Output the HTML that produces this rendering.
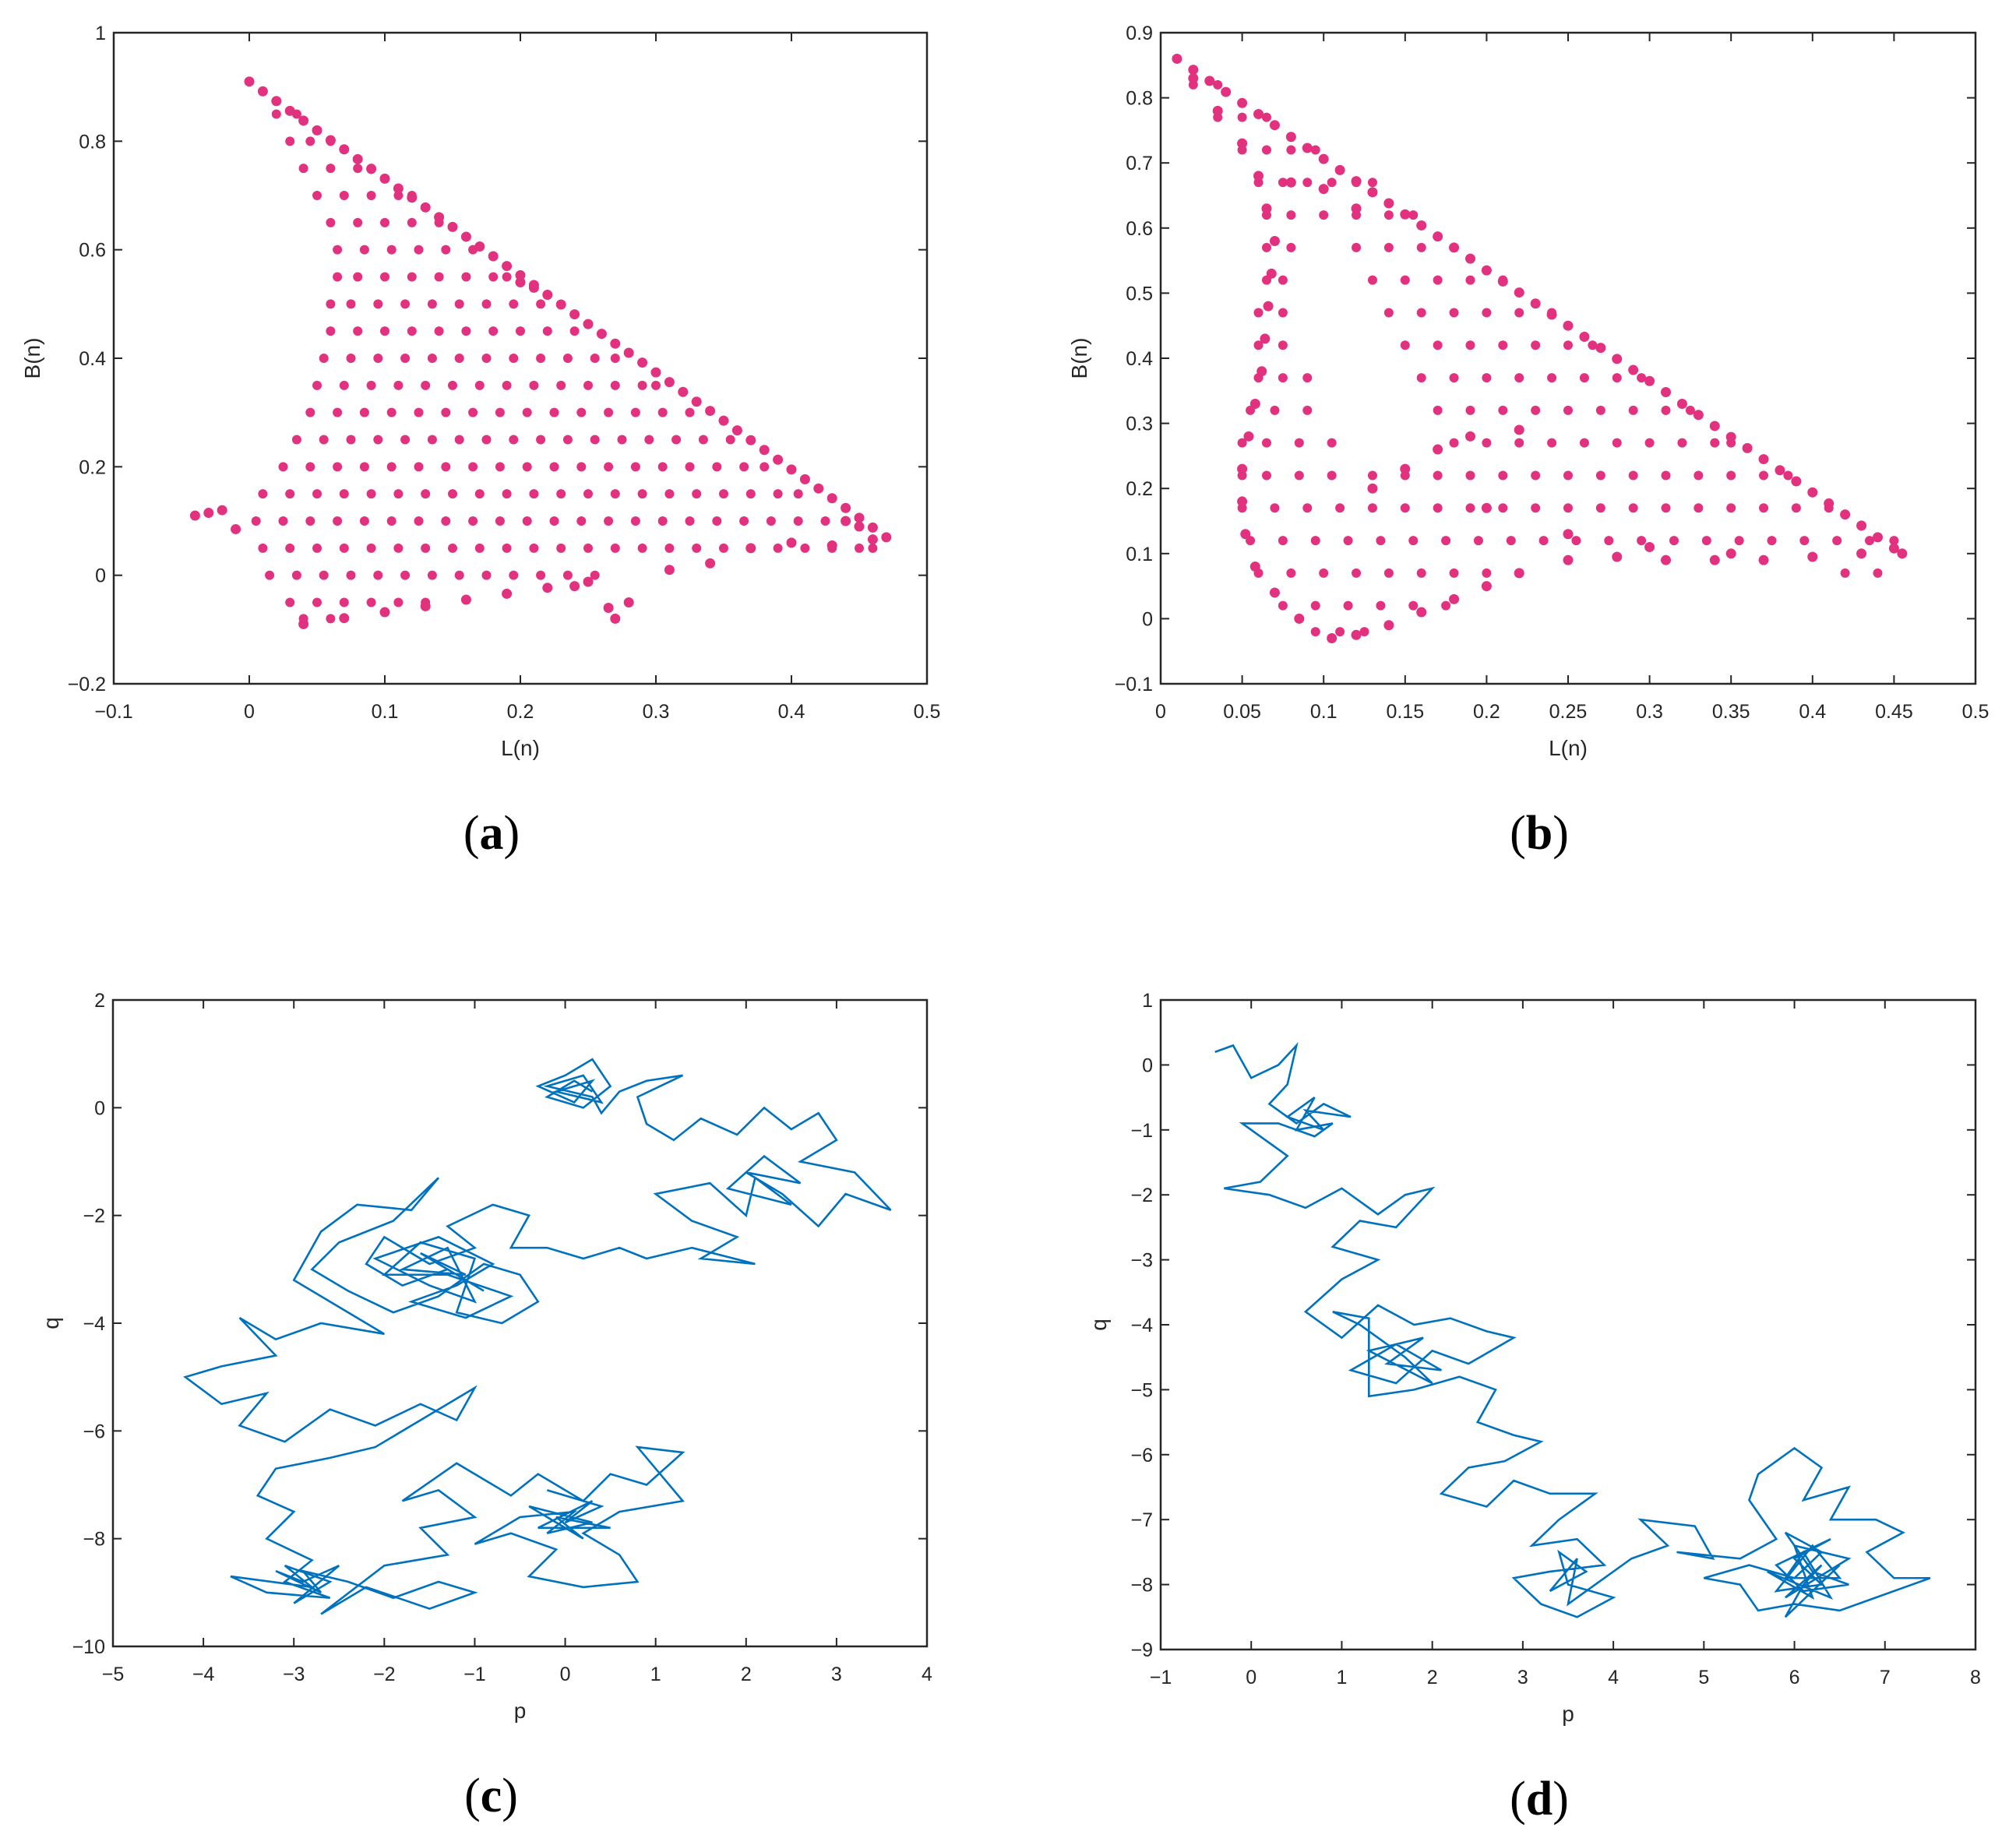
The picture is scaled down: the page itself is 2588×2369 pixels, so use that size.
<!DOCTYPE html>
<html><head><meta charset="utf-8"><style>
html,body{margin:0;padding:0;background:#fff}
svg{display:block}
text{font-family:"Liberation Sans",sans-serif;fill:#262626}
.cap{font-family:"Liberation Serif",serif;fill:#000}
</style></head><body>
<svg id="fig" width="2588" height="2369" viewBox="0 0 2588 2369" xmlns="http://www.w3.org/2000/svg"></svg>
<script>
// ---- panel (a) data: rows of L values at given B
const aRowB=[0.85,0.80,0.75,0.70,0.65,0.60,0.55,0.50,0.45,0.40,0.35,0.30,0.25,0.20,0.15,0.10,0.05,0.00,-0.05,-0.08];
const aRowL=[[0.02,0.035],[0.03,0.045,0.06],[0.04,0.06,0.08,0.09],[0.05,0.07,0.09,0.11,0.12],[0.06,0.08,0.10,0.12,0.14],
[0.065,0.085,0.105,0.125,0.145,0.165],[0.065,0.08,0.10,0.12,0.14,0.16,0.18,0.19],[0.06,0.075,0.095,0.115,0.135,0.155,0.175,0.195,0.215],
[0.06,0.08,0.10,0.12,0.14,0.16,0.18,0.20,0.22,0.24],[0.055,0.075,0.095,0.115,0.135,0.155,0.175,0.195,0.215,0.235,0.255,0.27],
[0.05,0.07,0.09,0.11,0.13,0.15,0.17,0.19,0.21,0.23,0.25,0.27,0.29,0.30],
[0.045,0.065,0.085,0.105,0.125,0.145,0.165,0.185,0.205,0.225,0.245,0.265,0.285,0.305,0.325],
[0.035,0.055,0.075,0.095,0.115,0.135,0.155,0.175,0.195,0.215,0.235,0.255,0.275,0.295,0.315,0.335,0.355],
[0.025,0.045,0.065,0.085,0.105,0.125,0.145,0.165,0.185,0.205,0.225,0.245,0.265,0.285,0.305,0.325,0.345,0.365,0.38],
[0.01,0.03,0.05,0.07,0.09,0.11,0.13,0.15,0.17,0.19,0.21,0.23,0.25,0.27,0.29,0.31,0.33,0.35,0.37,0.39,0.405],
[0.005,0.025,0.045,0.065,0.085,0.105,0.125,0.145,0.165,0.185,0.205,0.225,0.245,0.265,0.285,0.305,0.325,0.345,0.365,0.385,0.405,0.425,0.44],
[0.01,0.03,0.05,0.07,0.09,0.11,0.13,0.15,0.17,0.19,0.21,0.23,0.25,0.27,0.29,0.31,0.33,0.35,0.37,0.39,0.41,0.43,0.45,0.46],
[0.015,0.035,0.055,0.075,0.095,0.115,0.135,0.155,0.175,0.195,0.215,0.235,0.255],
[0.03,0.05,0.07,0.09,0.11,0.13],[0.04,0.06]];
const aExtra=[[0.00,0.91],[0.01,0.892],[0.02,0.874],[0.03,0.856],[0.04,0.838],[0.05,0.82],[0.06,0.802],[0.07,0.785],[0.08,0.767],[0.09,0.749],[0.10,0.731],[0.11,0.713],[0.12,0.696],[0.13,0.678],[0.14,0.66],[0.15,0.642],[0.16,0.624],[0.17,0.606],[0.18,0.588],[0.19,0.57],[0.20,0.553],[0.21,0.535],[0.22,0.517],[0.23,0.499],[0.24,0.481],[0.25,0.463],[0.26,0.445],[0.27,0.427],[0.28,0.41],[0.29,0.392],[0.30,0.374],[0.31,0.356],[0.32,0.338],[0.33,0.32],[0.34,0.303],[0.35,0.285],[0.36,0.267],[0.37,0.249],[0.38,0.231],[0.39,0.213],[0.40,0.195],[0.41,0.177],[0.42,0.16],[0.43,0.142],[0.44,0.124],[0.45,0.106],[0.46,0.088],[0.47,0.07],
[0.04,-0.09],[0.07,-0.079],[0.10,-0.068],[0.13,-0.057],[0.16,-0.045],[0.19,-0.034],[0.22,-0.023],[0.25,-0.012],[0.31,0.01],[0.34,0.022],[0.37,0.05],[0.40,0.06],[0.43,0.055],[0.46,0.066],
[-0.04,0.11],[-0.03,0.115],[-0.02,0.12],[-0.01,0.085],[0.265,-0.06],[0.27,-0.08],[0.28,-0.05],[0.24,-0.02],[0.21,0.53],[0.2,0.54],[0.45,0.09],[0.44,0.1]];
// ---- panel (b) data
const bRowB=[0.82,0.77,0.72,0.67,0.62,0.57,0.52,0.47,0.42,0.37,0.32,0.27,0.22,0.17,0.12,0.07,0.02,-0.02];
const bRowL=[[0.02,0.035],[0.035,0.05,0.065],[0.05,0.065,0.08,0.095],[0.06,0.075,0.09,0.105,0.12,0.13],[0.065,0.08,0.10,0.12,0.14,0.155],
[0.065,0.08,0.12,0.14,0.16,0.18],[0.065,0.075,0.13,0.15,0.17,0.19,0.21],[0.06,0.075,0.14,0.16,0.18,0.20,0.22,0.24],
[0.06,0.075,0.15,0.17,0.19,0.21,0.23,0.25,0.265],[0.06,0.075,0.09,0.16,0.18,0.20,0.22,0.24,0.26,0.28,0.295],
[0.055,0.07,0.09,0.17,0.19,0.21,0.23,0.25,0.27,0.29,0.31,0.325],[0.05,0.065,0.085,0.105,0.18,0.20,0.22,0.24,0.26,0.28,0.30,0.32,0.34,0.35],
[0.05,0.065,0.085,0.105,0.13,0.15,0.17,0.19,0.21,0.23,0.25,0.27,0.29,0.31,0.33,0.35,0.37,0.385],
[0.05,0.07,0.09,0.11,0.13,0.15,0.17,0.19,0.21,0.23,0.25,0.27,0.29,0.31,0.33,0.35,0.37,0.39,0.41],
[0.055,0.075,0.095,0.115,0.135,0.155,0.175,0.195,0.215,0.235,0.255,0.275,0.295,0.315,0.335,0.355,0.375,0.395,0.415,0.435,0.45],
[0.06,0.08,0.10,0.12,0.14,0.16,0.18,0.20,0.22,0.42,0.44],[0.075,0.095,0.115,0.135,0.155,0.175],[0.095,0.11,0.125]];
const bExtra=[[0.01,0.86],[0.02,0.843],[0.03,0.826],[0.04,0.809],[0.05,0.792],[0.06,0.775],[0.07,0.758],[0.08,0.74],[0.09,0.723],[0.10,0.706],[0.11,0.689],[0.12,0.672],[0.13,0.655],[0.14,0.638],[0.15,0.621],[0.16,0.604],[0.17,0.587],[0.18,0.57],[0.19,0.553],[0.20,0.535],[0.21,0.518],[0.22,0.501],[0.23,0.484],[0.24,0.467],[0.25,0.45],[0.26,0.433],[0.27,0.416],[0.28,0.399],[0.29,0.382],[0.30,0.365],[0.31,0.348],[0.32,0.33],[0.33,0.313],[0.34,0.296],[0.35,0.279],[0.36,0.262],[0.37,0.245],[0.38,0.228],[0.39,0.211],[0.40,0.194],[0.41,0.177],[0.42,0.16],[0.43,0.143],[0.44,0.125],[0.45,0.108],
[0.02,0.83],[0.035,0.78],[0.05,0.73],[0.06,0.68],[0.065,0.63],[0.07,0.58],[0.068,0.53],[0.066,0.48],[0.064,0.43],[0.062,0.38],[0.058,0.33],[0.054,0.28],[0.05,0.23],[0.05,0.18],[0.052,0.13],[0.058,0.08],[0.07,0.04],[0.085,0.0],[0.105,-0.03],
[0.12,-0.025],[0.14,-0.01],[0.16,0.01],[0.18,0.03],[0.2,0.05],[0.22,0.07],[0.25,0.09],[0.28,0.095],[0.31,0.09],[0.34,0.09],[0.37,0.09],[0.40,0.095],[0.43,0.1],[0.455,0.1],
[0.08,0.67],[0.10,0.66],[0.12,0.63],[0.13,0.2],[0.15,0.23],[0.17,0.26],[0.19,0.28],[0.22,0.29],[0.2,0.17],[0.25,0.13],[0.3,0.11],[0.35,0.1]];
// ---- panel (c) walk
const cWalk=[[0.3,0.3],[0.1,0.5],[-0.2,0.2],[0.2,0.0],[0.5,0.4],[0.3,0.9],[0.0,0.6],[-0.3,0.4],[0.1,0.1],[0.3,0.5],[-0.1,0.3],[0.4,0.1],[0.2,0.6],[-0.2,0.4],[0.3,0.2],[0.4,-0.1],[0.6,0.3],[0.9,0.5],[1.3,0.6],[0.8,0.2],[0.9,-0.3],[1.2,-0.6],[1.5,-0.2],[1.9,-0.5],[2.2,0.0],[2.5,-0.4],[2.8,-0.1],[3.0,-0.6],[2.6,-1.0],[3.2,-1.2],[3.6,-1.9],[3.1,-1.6],[2.8,-2.2],[2.4,-1.6],[2.0,-1.2],[2.6,-1.4],[2.2,-0.9],[1.8,-1.5],[2.5,-1.8],[2.1,-1.3],[2.0,-2.0],[1.6,-1.4],[1.0,-1.6],[1.4,-2.1],[1.9,-2.4],[1.5,-2.8],[2.1,-2.9],[1.4,-2.6],[0.9,-2.8],[0.6,-2.6],[0.2,-2.8],[-0.2,-2.6],[-0.6,-2.6],[-0.4,-2.0],[-0.8,-1.8],[-1.3,-2.2],[-1.0,-2.6],[-1.5,-2.9],[-2.0,-2.4],[-2.2,-2.9],[-1.8,-3.3],[-1.3,-3.0],[-0.9,-3.4],[-1.6,-2.7],[-1.1,-3.1],[-1.8,-3.0],[-1.3,-2.6],[-1.0,-3.6],[-1.5,-3.3],[-2.1,-2.8],[-1.4,-2.4],[-0.8,-2.9],[-1.2,-3.3],[-1.7,-3.6],[-1.1,-3.9],[-0.6,-3.5],[-1.3,-3.1],[-2.0,-3.1],[-1.6,-2.5],[-1.0,-2.8],[-1.2,-3.8],[-0.7,-4.0],[-0.3,-3.6],[-0.5,-3.1],[-0.9,-2.9],[-1.4,-3.5],[-1.9,-3.8],[-2.4,-3.4],[-2.8,-3.0],[-2.5,-2.5],[-1.9,-2.1],[-1.4,-1.3],[-1.7,-1.9],[-2.3,-1.8],[-2.7,-2.3],[-3.0,-3.2],[-2.5,-3.7],[-2.0,-4.2],[-2.7,-4.0],[-3.2,-4.3],[-3.6,-3.9],[-3.2,-4.6],[-3.8,-4.8],[-4.2,-5.0],[-3.8,-5.5],[-3.3,-5.3],[-3.6,-5.9],[-3.1,-6.2],[-2.6,-5.6],[-2.1,-5.9],[-1.6,-5.5],[-1.2,-5.8],[-1.0,-5.2],[-1.6,-5.8],[-2.1,-6.3],[-2.6,-6.5],[-3.2,-6.7],[-3.4,-7.2],[-3.0,-7.5],[-3.3,-8.0],[-2.8,-8.4],[-3.1,-8.8],[-2.6,-9.1],[-3.3,-9.0],[-3.7,-8.7],[-2.8,-8.9],[-3.1,-8.5],[-2.6,-8.8],[-3.0,-9.2],[-2.5,-8.5],[-2.9,-8.8],[-3.2,-8.6],[-2.7,-9.0],[-2.9,-8.6],[-2.4,-8.8],[-1.9,-9.1],[-1.4,-8.8],[-1.0,-9.0],[-1.5,-9.3],[-2.2,-8.9],[-2.7,-9.4],[-2.0,-8.5],[-1.3,-8.3],[-1.6,-7.8],[-1.0,-7.6],[-1.4,-7.1],[-1.8,-7.3],[-1.2,-6.6],[-0.6,-7.2],[-0.3,-6.8],[0.2,-7.3],[0.5,-6.8],[0.9,-7.0],[1.3,-6.4],[0.8,-6.3],[1.1,-6.9],[1.3,-7.3],[0.6,-7.5],[0.2,-7.9],[0.6,-8.3],[0.8,-8.8],[0.2,-8.9],[-0.4,-8.7],[-0.1,-8.2],[-0.6,-7.9],[-1.0,-8.1],[-0.5,-7.6],[0.1,-7.5],[-0.2,-7.9],[0.3,-7.7],[-0.4,-7.4],[0.2,-8.0],[-0.1,-7.6],[0.5,-7.8],[-0.3,-7.8],[0.3,-7.3],[0.0,-7.7],[0.4,-7.4],[-0.2,-7.1]];
// ---- panel (d) walk
const dWalk=[[-0.4,0.2],[-0.2,0.3],[0.0,-0.2],[0.3,0.0],[0.5,0.3],[0.4,-0.3],[0.2,-0.6],[0.5,-0.9],[0.8,-0.6],[1.1,-0.8],[0.6,-0.7],[0.8,-1.0],[0.4,-0.8],[0.7,-0.5],[0.5,-1.0],[0.9,-0.9],[0.7,-1.1],[0.3,-0.9],[-0.1,-0.9],[0.4,-1.4],[0.1,-1.8],[-0.3,-1.9],[0.2,-2.0],[0.6,-2.2],[1.0,-1.9],[1.4,-2.3],[1.7,-2.0],[2.0,-1.9],[1.6,-2.5],[1.2,-2.4],[0.9,-2.8],[1.4,-3.0],[1.0,-3.3],[0.6,-3.8],[1.0,-4.2],[1.4,-3.7],[1.8,-4.0],[2.2,-3.9],[2.6,-4.1],[2.9,-4.2],[2.4,-4.6],[2.0,-4.4],[1.6,-4.9],[1.1,-4.7],[1.6,-4.3],[2.1,-4.7],[1.5,-4.6],[1.9,-4.2],[1.3,-4.4],[2.0,-4.9],[1.7,-4.5],[1.2,-4.0],[0.9,-3.8],[1.3,-3.9],[1.3,-5.1],[1.8,-5.0],[2.3,-4.8],[2.7,-5.0],[2.5,-5.5],[2.9,-5.7],[3.2,-5.8],[2.8,-6.1],[2.4,-6.2],[2.1,-6.6],[2.6,-6.8],[2.9,-6.4],[3.3,-6.6],[3.8,-6.6],[3.4,-7.0],[3.1,-7.4],[3.6,-7.3],[3.9,-7.7],[3.3,-7.8],[2.9,-7.9],[3.2,-8.3],[3.6,-8.5],[4.0,-8.2],[3.5,-8.0],[3.4,-7.5],[3.7,-7.8],[3.3,-8.1],[3.6,-7.6],[3.5,-8.3],[4.2,-7.6],[4.6,-7.4],[4.3,-7.0],[4.9,-7.1],[5.1,-7.6],[4.7,-7.5],[5.4,-7.6],[5.8,-7.3],[5.5,-6.7],[5.6,-6.3],[6.0,-5.9],[6.3,-6.2],[6.1,-6.7],[6.6,-6.5],[6.4,-7.0],[6.9,-7.0],[7.2,-7.2],[6.8,-7.5],[7.1,-7.9],[7.5,-7.9],[6.9,-8.2],[6.5,-8.4],[6.0,-8.3],[5.6,-8.4],[5.4,-8.0],[5.0,-7.9],[5.5,-7.7],[6.0,-7.9],[6.3,-7.5],[5.9,-7.2],[6.2,-7.8],[6.6,-8.0],[6.1,-8.1],[5.8,-7.7],[6.4,-7.3],[6.0,-7.6],[6.3,-8.0],[5.8,-8.1],[6.2,-7.4],[6.5,-7.9],[5.9,-7.9],[6.1,-7.5],[6.4,-8.2],[5.7,-7.8],[6.2,-8.2],[6.0,-7.4],[6.6,-7.6],[5.9,-8.2],[6.3,-7.7],[6.1,-8.0],[5.9,-8.5],[6.5,-7.7]];
// tick labels
const aXT=[-0.1,0,0.1,0.2,0.3,0.4,0.5], aYT=[-0.2,0,0.2,0.4,0.6,0.8,1];
const bXT=[0,0.05,0.1,0.15,0.2,0.25,0.3,0.35,0.4,0.45,0.5], bYT=[-0.1,0,0.1,0.2,0.3,0.4,0.5,0.6,0.7,0.8,0.9];
const cXT=[-5,-4,-3,-2,-1,0,1,2,3,4], cYT=[-10,-8,-6,-4,-2,0,2];
const dXT=[-1,0,1,2,3,4,5,6,7,8], dYT=[-9,-8,-7,-6,-5,-4,-3,-2,-1,0,1];

const NS="http://www.w3.org/2000/svg", svg=document.getElementById('fig');
function mk(t,a,p){const e=document.createElementNS(NS,t);for(const k in a)e.setAttribute(k,a[k]);(p||svg).appendChild(e);return e;}
function fmt(v){return (v<0?'\u2212':'')+String(Math.abs(v));}
function panel(id,box,xr,yr,xt,yt,xl,yl,cap){
  const g=mk('g',{});
  
  
  const sx=v=>box.x0+(v-xr[0])/(xr[1]-xr[0])*(box.x1-box.x0);
  const sy=v=>box.y1-(v-yr[0])/(yr[1]-yr[0])*(box.y1-box.y0);
  const xa=mk('g',{},g);
  
  
  xt.forEach(v=>{const x=sx(v);
    mk('line',{x1:x,x2:x,y1:box.y1,y2:box.y1-11,stroke:'#262626','stroke-width':2},xa);
    mk('line',{x1:x,x2:x,y1:box.y0,y2:box.y0+11,stroke:'#262626','stroke-width':2},xa);
    const t=mk('text',{x:x,y:box.y1+44,'font-size':25,'text-anchor':'middle'},xa);t.textContent=fmt(v);
    
    });
  const ya=mk('g',{},g);
  
  
  yt.forEach(v=>{const y=sy(v);
    mk('line',{x1:box.x0,x2:box.x0+11,y1:y,y2:y,stroke:'#262626','stroke-width':2},ya);
    mk('line',{x1:box.x1,x2:box.x1-11,y1:y,y2:y,stroke:'#262626','stroke-width':2},ya);
    const t=mk('text',{x:box.x0-10,y:y+9,'font-size':25,'text-anchor':'end'},ya);t.textContent=fmt(v);
    
    });
  const xlab=mk('text',{x:(box.x0+box.x1)/2,y:box.y1+92,'font-size':28,'text-anchor':'middle'},g);xlab.textContent=xl;
  
  
  const ylx=box.x0-(yl==='q'?70:95), ylyy=(box.y0+box.y1)/2;
  const ylab=mk('text',{x:ylx,y:ylyy,'font-size':28,'text-anchor':'middle',transform:'rotate(-90 '+ylx+' '+ylyy+')'},g);ylab.textContent=yl;
  
  
  const c=mk('text',{x:(box.x0+box.x1)/2-37,y:box.y1+212,'font-size':62,'text-anchor':'middle','class':'cap'},g);
  
  
  const t1=mk('tspan',{},c);t1.textContent='(';
  const t2=mk('tspan',{'font-weight':'bold'},c);t2.textContent=cap;
  const t3=mk('tspan',{},c);t3.textContent=')';
  return {g,sx,sy,box};
}
function frame(P){const r=mk('rect',{x:P.box.x0,y:P.box.y0,width:P.box.x1-P.box.x0,height:P.box.y1-P.box.y0,fill:'none',stroke:'#262626','stroke-width':2.5},P.g);
  
  }
function scatter(P,rowB,rowL,extra,name){
  const g=mk('g',{fill:'#e2317e'},P.g);
  
  
  rowB.forEach((b,i)=>rowL[i].forEach(l=>mk('circle',{cx:P.sx(l),cy:P.sy(b),r:6},g)));
  extra.forEach(p=>mk('circle',{cx:P.sx(p[0]),cy:P.sy(p[1]),r:6.5},g));
}
function walk(P,pts,name){
  const pl=mk('polyline',{points:pts.map(p=>P.sx(p[0])+','+P.sy(p[1])).join(' '),fill:'none',stroke:'#0072bd','stroke-width':2.6,'stroke-linejoin':'miter'},P.g);
  
  
}
const A=panel('a',{x0:146,x1:1190,y0:42,y1:878},[-0.1,0.5],[-0.2,1],aXT,aYT,'L(n)','B(n)','a');
scatter(A,aRowB,aRowL,aExtra,'scatter-a');frame(A);
const B=panel('b',{x0:1490,x1:2536,y0:42,y1:878},[0,0.5],[-0.1,0.9],bXT,bYT,'L(n)','B(n)','b');
scatter(B,bRowB,bRowL,bExtra,'scatter-b');frame(B);
const C=panel('c',{x0:145,x1:1190,y0:1284,y1:2114},[-5,4],[-10,2],cXT,cYT,'p','q','c');
walk(C,cWalk,'walk-c');frame(C);
const D=panel('d',{x0:1490,x1:2536,y0:1284,y1:2118},[-1,8],[-9,1],dXT,dYT,'p','q','d');
walk(D,dWalk,'walk-d');frame(D);
</script>
</body></html>
